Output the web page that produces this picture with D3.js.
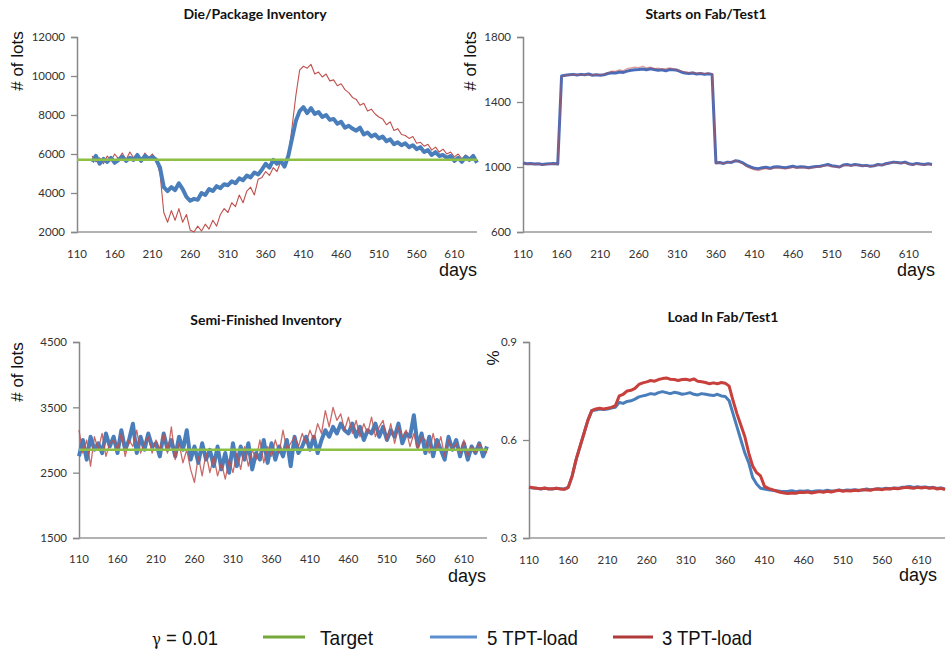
<!DOCTYPE html>
<html>
<head>
<meta charset="utf-8">
<script src="https://cdn.jsdelivr.net/npm/d3@7"></script>
<style>
  body { margin: 0; background: #fff; }
  .tick-label { font-family: Lato, "Open Sans", sans-serif; font-size: 11.5px; fill: #333; }
  .panel-title { font-family: Lato, "Open Sans", sans-serif; font-weight: bold; font-size: 14px; fill: #111; }
  .axis-title { font-family: "Liberation Sans", Arial, sans-serif; font-size: 17px; fill: #111; }
  .days-label { font-family: "Liberation Sans", Arial, sans-serif; font-size: 18px; fill: #111; }
  .legend-text { font-family: "Liberation Sans Narrow", "Liberation Sans", Arial, sans-serif; font-size: 21px; fill: #111; }
</style>
</head>
<body>
<div id="chart"></div>
<script>
// x values shared by all four panels (days)
var days = [
  110,115,120,125,130,135,140,145,150,155,
  160,165,170,175,180,185,190,195,200,205,
  210,215,220,225,230,235,240,245,250,255,
  260,265,270,275,280,285,290,295,300,305,
  310,315,320,325,330,335,340,345,350,355,
  360,365,370,375,380,385,390,395,400,405,
  410,415,420,425,430,435,440,445,450,455,
  460,465,470,475,480,485,490,495,500,505,
  510,515,520,525,530,535,540,545,550,555,
  560,565,570,575,580,585,590,595,600,605,
  610,615,620,625,630,635,640
];
var dayTicks = [110,160,210,260,310,360,410,460,510,560,610];

// Die/Package Inventory
var dieTarget = 5700;
var dieBlue = [
  null,null,null,null,5600,5900,5500,5750,5600,5800,
  5550,5700,5850,5650,5800,5700,5950,5650,5900,5750,
  5850,5700,5300,4300,4100,4300,4150,4500,4200,3800,
  3600,3700,3650,4000,3900,4200,4100,4350,4250,4450,
  4400,4600,4500,4750,4650,4900,4800,5050,4950,5200,
  5500,5300,5700,5500,5650,5350,5900,6800,7700,8200,
  8400,8100,8350,8050,8150,7900,8000,7750,7800,7550,
  7650,7350,7450,7300,7200,7350,7000,7100,6900,7000,
  6800,6900,6650,6750,6500,6600,6450,6550,6350,6450,
  6250,6350,6100,6200,5950,6100,5900,5950,5800,5900,
  5650,5800,5600,5850,5700,5900,5550
];
var dieRed = [
  null,null,null,null,5900,5600,5800,5500,5900,5650,
  6000,5750,6050,5700,6100,5800,5950,5600,6050,5800,
  6000,5700,5000,3000,2500,3100,2600,3200,2500,2900,
  2100,2000,2300,2050,2400,2150,2600,2300,2900,3200,
  3000,3500,3300,3900,3500,4100,4300,3900,4700,4800,
  5100,4900,5300,5100,5600,5300,5900,7400,9000,10300,
  10500,10400,10600,10100,10200,9950,10100,9750,9800,9500,
  9600,9300,9150,8900,8800,8500,8600,8200,8300,8050,
  7900,7800,7500,7650,7200,7300,7000,6950,6800,6900,
  6550,6600,6400,6500,6200,6350,6100,6250,6000,6100,
  5850,6000,5750,5950,5800,5900,5600
];

// Starts on Fab/Test1
var startsBlue = [
  1025,1020,1022,1018,1020,1015,1018,1020,1022,1018,
  1560,1565,1568,1570,1566,1570,1568,1572,1565,1568,
  1565,1568,1575,1580,1578,1585,1582,1590,1595,1598,
  1600,1603,1598,1605,1600,1595,1598,1592,1600,1598,
  1595,1585,1578,1575,1578,1572,1575,1570,1574,1570,
  1025,1028,1022,1030,1028,1038,1035,1025,1010,1000,
  992,990,995,998,992,1000,1002,998,995,1000,
  1005,998,1002,1000,996,1000,1003,1005,1010,1015,
  1008,1005,1000,1012,1015,1010,1015,1012,1008,1010,
  1005,1008,1015,1012,1020,1025,1030,1028,1025,1030,
  1020,1015,1022,1018,1015,1020,1015
];
var startsRed = [
  1022,1018,1020,1015,1018,1012,1015,1018,1020,1015,
  1555,1562,1566,1568,1570,1566,1570,1568,1565,1570,
  1568,1572,1580,1590,1588,1598,1592,1605,1610,1615,
  1612,1620,1610,1615,1605,1608,1602,1605,1610,1604,
  1600,1590,1585,1580,1584,1575,1580,1576,1578,1572,
  1022,1025,1020,1028,1030,1040,1032,1020,1002,992,
  982,978,985,990,985,992,995,990,988,992,
  998,992,996,994,990,995,998,1000,1005,1010,
  1002,1000,998,1008,1010,1005,1012,1008,1005,1008,
  1002,1005,1012,1010,1018,1022,1028,1025,1022,1026,
  1018,1012,1018,1015,1012,1018,1012
];

// Semi-Finished Inventory
var semiTarget = 2850;
var semiBlue = [
  2750,3000,2700,3050,2850,2950,2800,3100,2900,3050,
  2800,3150,2850,3000,3250,2800,3050,2850,3100,2900,
  2950,2750,3100,2850,3000,2750,3050,2850,3150,2700,
  2900,2650,2950,2700,2850,2600,2900,2550,2800,2500,
  2950,2600,2900,2700,2950,2550,2800,2700,3000,2650,
  2950,2700,2900,2750,3000,2600,3050,2800,2900,3050,
  2850,3050,2800,3000,3150,3050,3200,3100,3250,3150,
  3100,3250,3050,3200,3000,3150,3100,3250,3050,3200,
  3000,3150,3050,3250,2950,3100,3050,3380,2900,3100,
  2800,3050,2750,3000,2850,2700,3050,2850,3000,2750,
  2950,2700,2900,2800,2950,2750,2900
];
var semiRed = [
  3150,2800,3000,2600,3050,2850,3100,2750,2950,3000,
  2850,3100,2750,3000,2900,3150,2800,2950,3050,2800,
  3000,2850,3100,2800,3200,2700,2950,2650,2850,2550,
  2350,2750,2450,2800,2500,2750,2450,2650,2400,2700,
  2500,2800,2550,2900,2600,2850,2700,3000,2650,2900,
  2750,3000,2800,3150,2850,2950,3050,2900,3100,2950,
  3150,3000,3250,3100,3450,3200,3500,3300,3400,3150,
  3350,3100,3300,3050,3250,3100,3350,3050,3200,3300,
  3000,3250,2950,3200,3050,3150,2900,3100,2850,3050,
  3000,2800,3100,2850,3050,2750,3000,2850,2950,2800,
  3000,2750,2900,2800,2950,2850,2800
];

// Load In Fab/Test1
var loadBlue = [
  0.455,0.453,0.452,0.450,0.452,0.451,0.450,0.452,0.451,0.450,
  0.455,0.490,0.540,0.580,0.620,0.660,0.690,0.692,0.695,0.693,
  0.695,0.698,0.700,0.715,0.712,0.718,0.720,0.725,0.732,0.735,
  0.738,0.742,0.740,0.745,0.748,0.745,0.742,0.746,0.744,0.740,
  0.742,0.745,0.740,0.738,0.742,0.740,0.738,0.736,0.740,0.735,
  0.733,0.720,0.680,0.640,0.600,0.560,0.530,0.485,0.465,0.452,
  0.450,0.448,0.446,0.445,0.443,0.442,0.443,0.445,0.442,0.444,
  0.443,0.445,0.442,0.444,0.445,0.443,0.446,0.444,0.445,0.447,
  0.445,0.447,0.446,0.448,0.446,0.447,0.450,0.448,0.449,0.451,
  0.450,0.452,0.451,0.453,0.452,0.455,0.456,0.458,0.455,0.457,
  0.455,0.456,0.454,0.455,0.452,0.453,0.450
];
var loadRed = [
  0.456,0.454,0.452,0.451,0.453,0.450,0.451,0.452,0.450,0.449,
  0.455,0.490,0.540,0.580,0.620,0.660,0.690,0.695,0.697,0.695,
  0.697,0.700,0.705,0.735,0.740,0.750,0.752,0.758,0.770,0.775,
  0.778,0.782,0.780,0.785,0.788,0.790,0.786,0.785,0.782,0.785,
  0.786,0.783,0.787,0.780,0.778,0.776,0.772,0.775,0.772,0.776,
  0.774,0.765,0.720,0.680,0.645,0.610,0.560,0.520,0.500,0.490,
  0.458,0.452,0.448,0.444,0.440,0.438,0.436,0.438,0.437,0.440,
  0.439,0.441,0.438,0.440,0.442,0.440,0.443,0.441,0.444,0.446,
  0.443,0.445,0.444,0.446,0.445,0.448,0.447,0.446,0.449,0.450,
  0.448,0.451,0.450,0.452,0.451,0.453,0.455,0.454,0.452,0.455,
  0.453,0.455,0.452,0.454,0.450,0.452,0.448
];

var blue = '#4a7ebb', red = '#c0504d', green = '#8cbf44';

var svg = d3.select('#chart')
  .append('svg')
  .attr('width', 950)
  .attr('height', 651)
  .style('background', '#fff');

var panels = [
  { title: 'Die/Package Inventory', left: 77, right: 477, top: 37, bottom: 232,
    yDomain: [2000, 12000], yTicks: [2000, 4000, 6000, 8000, 10000, 12000], fmt: d3.format('d'),
    titleX: 255, titleY: 19, yLabel: '# of lots', yLabelX: 17, yLabelY: 61,
    daysX: 458, daysY: 276, xLabelY: 258, target: dieTarget,
    series: [ { values: dieRed, color: red, width: 1.1 },
              { values: dieBlue, color: blue, width: 4 } ] },
  { title: 'Starts on Fab/Test1', left: 523, right: 932, top: 37, bottom: 232,
    yDomain: [600, 1800], yTicks: [600, 1000, 1400, 1800], fmt: d3.format('d'),
    titleX: 706, titleY: 19, yLabel: '# of lots', yLabelX: 470, yLabelY: 61,
    daysX: 916, daysY: 276, xLabelY: 258,
    series: [ { values: startsBlue, color: '#4a6cb8', width: 3 },
              { values: startsRed, color: red, width: 1.3, opacity: 0.55 } ] },
  { title: 'Semi-Finished Inventory', left: 79, right: 487, top: 342, bottom: 538,
    yDomain: [1500, 4500], yTicks: [1500, 2500, 3500, 4500], fmt: d3.format('d'),
    titleX: 266, titleY: 325, yLabel: '# of lots', yLabelX: 17, yLabelY: 372,
    daysX: 467, daysY: 582, xLabelY: 563, target: semiTarget,
    series: [ { values: semiBlue, color: blue, width: 4 },
              { values: semiRed, color: red, width: 1.3, opacity: 0.85 } ] },
  { title: 'Load In Fab/Test1', left: 529, right: 945, top: 342, bottom: 538,
    yDomain: [0.3, 0.9], yTicks: [0.3, 0.6, 0.9], fmt: d3.format('.1f'),
    titleX: 723, titleY: 322, yLabel: '%', yLabelX: 493, yLabelY: 358,
    daysX: 918, daysY: 581, xLabelY: 564,
    series: [ { values: loadBlue, color: blue, width: 3 },
              { values: loadRed, color: '#c8403c', width: 3 } ] }
];

panels.forEach(function(p) {
  var x = d3.scaleLinear().domain([110, 640]).range([p.left, p.right]);
  var y = d3.scaleLinear().domain(p.yDomain).range([p.bottom, p.top]);
  var g = svg.append('g');

  // y axis
  var yAxis = g.append('g')
    .attr('transform', 'translate(' + p.left + ',0)')
    .call(d3.axisLeft(y).tickValues(p.yTicks).tickFormat(p.fmt).tickSizeOuter(0).tickSize(6).tickPadding(6));
  yAxis.select('.domain').attr('stroke', '#888').attr('stroke-width', 1.5);
  yAxis.selectAll('.tick line').attr('stroke', '#888').attr('stroke-width', 1.3);
  yAxis.selectAll('.tick text').attr('class', 'tick-label').attr('fill', null);
  yAxis.attr('font-family', null).attr('font-size', null);

  // x axis line (no tick marks)
  g.append('line')
    .attr('x1', x(110)).attr('x2', x(640))
    .attr('y1', y(p.yDomain[0])).attr('y2', y(p.yDomain[0]))
    .attr('stroke', '#999').attr('stroke-width', 1.3);

  g.selectAll('.xlab')
    .data(dayTicks)
    .enter()
    .append('text')
    .attr('class', 'tick-label')
    .attr('x', function(d) { return x(d); })
    .attr('y', p.xLabelY)
    .attr('text-anchor', 'middle')
    .text(function(d) { return d; });

  // series lines
  p.series.forEach(function(s) {
    var line = d3.line()
      .defined(function(d) { return d != null; })
      .x(function(d, i) { return x(days[i]); })
      .y(function(d) { return y(d); });
    g.append('path')
      .datum(s.values)
      .attr('d', line)
      .attr('fill', 'none')
      .attr('stroke', s.color)
      .attr('stroke-width', s.width)
      .attr('stroke-opacity', s.opacity || 1)
      .attr('stroke-linejoin', 'round');
  });

  // target line on top
  if (p.target !== undefined) {
    g.append('line')
      .attr('x1', x(110)).attr('x2', x(640))
      .attr('y1', y(p.target)).attr('y2', y(p.target))
      .attr('stroke', green).attr('stroke-width', 2.5);
  }

  // titles and labels
  g.append('text')
    .attr('class', 'panel-title')
    .attr('x', p.titleX).attr('y', p.titleY)
    .attr('text-anchor', 'middle')
    .text(p.title);

  g.append('text')
    .attr('class', 'axis-title')
    .attr('transform', 'translate(' + p.yLabelX + ',' + p.yLabelY + ') rotate(-90)')
    .attr('text-anchor', 'middle')
    .attr('dominant-baseline', 'central')
    .text(p.yLabel);

  g.append('text')
    .attr('class', 'days-label')
    .attr('x', p.daysX).attr('y', p.daysY)
    .attr('text-anchor', 'middle')
    .text('days');
});

// legend
var legendItems = [
  { label: 'Target', color: '#77a83a', x1: 263, x2: 305, tx: 320, len: 53 },
  { label: '5 TPT-load', color: '#5b8fd0', x1: 430, x2: 477, tx: 487, len: 91 },
  { label: '3 TPT-load', color: '#b03a3a', x1: 613, x2: 653, tx: 662, len: 90 }
];
var legend = svg.append('g');
var gammaText = legend.append('text')
  .attr('class', 'legend-text')
  .attr('x', 152).attr('y', 645)
  .attr('textLength', 66)
  .attr('lengthAdjust', 'spacingAndGlyphs');
gammaText.append('tspan').style('font-family', '"DejaVu Serif", serif').style('font-size', '17px').text('γ');
gammaText.append('tspan').text(' = 0.01');

legend.selectAll('.leg-line')
  .data(legendItems)
  .enter()
  .append('line')
  .attr('x1', function(d) { return d.x1; })
  .attr('x2', function(d) { return d.x2; })
  .attr('y1', 637).attr('y2', 637)
  .attr('stroke', function(d) { return d.color; })
  .attr('stroke-width', 3);

legend.selectAll('.leg-text')
  .data(legendItems)
  .enter()
  .append('text')
  .attr('class', 'legend-text')
  .attr('x', function(d) { return d.tx; })
  .attr('y', 645)
  .attr('textLength', function(d) { return d.len; })
  .attr('lengthAdjust', 'spacingAndGlyphs')
  .text(function(d) { return d.label; });
</script>
</body>
</html>
